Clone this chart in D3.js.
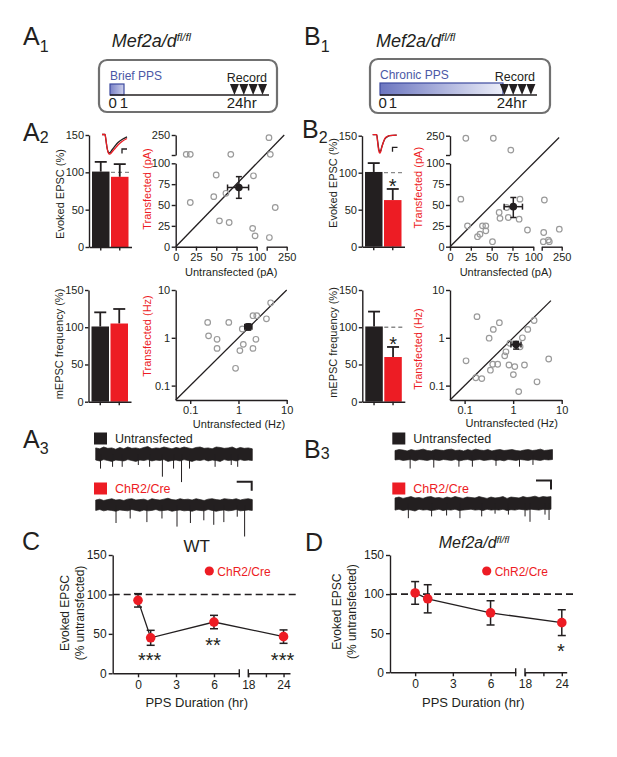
<!DOCTYPE html>
<html><head><meta charset="utf-8">
<script src="https://cdn.jsdelivr.net/npm/d3@7"></script>
<style>body{margin:0;background:#fff} svg{display:block}</style>
</head><body><script>
// ---------------- DATA ----------------
const barGroups = ["Untransfected", "ChR2/Cre"];
const barTicks = [0, 50, 100, 150];
const evokedA2 = [101, 94];
const evokedA2Err = [13, 17];
const mepscA2 = [101, 105];
const mepscA2Err = [19, 19.5];
const evokedB2 = [101, 63];
const evokedB2Err = [12, 15];
const mepscB2 = [101, 60];
const mepscB2Err = [20, 13.5];

const ampTicksLow = [0, 25, 50, 75, 100];
const freqTicks = [0.1, 1, 10];

const ampA2 = [[13,105],[18,105],[68,105],[117,230],[127,105],[50,86],[96,85],[18,53],[47,60],[62,64],[54,31],[66,29],[95,22],[98,13],[164,47],[120,11]];
const ampA2Mean = [78, 71], ampA2MeanErrX = [64, 90], ampA2MeanErrY = [58, 84];
const ampB2 = [[19,230],[52,230],[73,138],[13,57],[84,57],[59,41],[60,34],[70,35],[68,47],[83,33],[21,25],[39,25],[43,25],[43,19],[36,15],[33,12],[51,6],[93,20],[120,56],[115,17],[232,21],[112,6],[150,8],[157,6]];
const ampB2Mean = [76, 48], ampB2MeanErrX = [65, 87], ampB2MeanErrY = [35, 59];

const freqA2 = [[0.23,2.1],[0.24,1.1],[0.36,0.93],[0.36,0.6],[0.63,2.1],[0.87,0.23],[1.07,0.54],[1.26,0.73],[1.2,1.53],[2.0,2.9],[2.4,2.9],[2.3,0.93],[2.0,0.6],[3.8,2.5],[4.65,5.4]];
const freqA2Mean = [1.6, 1.7], freqA2MeanErrX = [1.35, 1.9], freqA2MeanErrY = [1.45, 1.95];
const freqB2 = [[0.107,0.33],[0.18,2.77],[0.17,0.146],[0.226,0.14],[0.32,0.98],[0.39,1.5],[0.52,2.07],[0.34,0.21],[0.38,0.28],[0.48,0.28],[0.71,0.51],[0.67,0.42],[0.86,0.77],[0.82,0.27],[1.08,0.25],[1.01,0.17],[1.39,0.65],[1.55,1.0],[1.71,0.27],[2.0,1.5],[2.7,2.3],[1.3,0.075],[3.1,0.12],[5.4,0.36]];
const freqB2Mean = [1.15, 0.72], freqB2MeanErrX = [0.9, 1.45], freqB2MeanErrY = [0.58, 0.84];

// EPSC inset traces (ms, pA-ish)
const epscT = [0,3,4,5,6,7,8,10,13,16,20,25];
const epscA2Black = [0,0,-6,-13,-17,-18.5,-18,-15.5,-11.5,-8,-5,-2.4];
const epscA2Red = [0,0,-6,-13,-17.5,-19.5,-19.5,-17.5,-14,-10.5,-7,-4];
const epscBT = [0,4,5,6,7,8,9,10.5,12,14,17,24];
const epscB2Black = [0,0,-7,-14,-17,-16,-12.5,-8,-4.5,-2.5,-1,-0.5];
const epscB2Red = [0,0,-8,-16,-18.5,-17,-13,-8,-4,-2,-1,-0.5];

// mEPSC traces (s, pA)
const traceDur = 10.4;
const a3UntUp = [7,6,8,6.5,7,5.5,7.5,6,8,6.5,7,6,7.5,8.5,6,7,6.5,8,7,6,7.5,6.5,8,7,6,7.5,8,6.5,7,6,8,7.5,6.5,7,8,6,7.5,6.5,7,6];
const a3UntDown = [6.5,7.5,6,7,8,6.5,7,7.5,6,7,8,6.5,7,6,7.5,6.5,7,6,8,7,6.5,7.5,6,7,8,6.5,7,6,7.5,6.5,7,8,6,7,6.5,7.5,6,7,6.5,7];
const a3UntSpikeT = [0.32,1.12,1.76,2.83,3.58,4.43,5.17,5.70,6.23,7.93,9.00,9.43];
const a3UntSpikeAmp = [16,14,14,12,14,25,16,31,16,14,12,14];
const a3ChrUp = [5.5,6.5,5,6,7,5.5,6,5,6.5,7,5.5,6,6.5,5,7,6,5.5,6.5,7.5,6,5.5,7,6,6.5,5.5,7,6,5,6.5,7,6,5.5,7,6.5,6,7,5.5,6.5,7,6];
const a3ChrDown = [6,5,6.5,5.5,6,7,5.5,6,6.5,5,6,7,5.5,6.5,6,5,6.5,6,5.5,7,6,5.5,6.5,6,7,5.5,6,6.5,5,6,7,6,5.5,6.5,6,5,6.5,6,5.5,6];
const a3ChrSpikeT = [1.35,2.29,3.4,4.4,5.4,6.29,7.18,7.84,8.51,9.4,9.89];
const a3ChrSpikeAmp = [20,15,19,15,24,20,17,22,19,13,35];
const b3UntUp = [5,6,5.5,4.5,6,5,5.5,6.5,5,4.5,6,5.5,5,6,6.5,5,5.5,4.5,6,5,6.5,5.5,5,6,4.5,5.5,6,5,5.5,6,5,4.5,5.5,6,5,5.5,6.5,5,5.5,6];
const b3UntDown = [5.5,5,6,5.5,5,6.5,5,5.5,6,5,5.5,6,5,5.5,6,5,6.5,5.5,5,6,5.5,5,6,5.5,5,6,5.5,6.5,5,5.5,6,5,5.5,6,5,5.5,6,5,5.5,5];
const b3UntSpikeT = [1.0,2.56,4.22,5.11,6.67,8.22,9.11];
const b3UntSpikeAmp = [15,14,13,13,12,13,11];
const b3ChrUp = [6.5,7.5,6,7,8,6.5,7,6,7.5,8,6.5,7,6,7.5,6.5,8,7,6,7.5,7,6.5,8,7,6,7.5,6.5,7,8,6,7.5,7,6.5,8,7,7.5,8.5,7,8,7.5,8];
const b3ChrDown = [7,6,7.5,6.5,7,8,6,7,6.5,7.5,7,6,7.5,6.5,7,6,7.5,7,6.5,6,7,6.5,7.5,6,7,6.5,7,6,7.5,6.5,7,6,6.5,7,6,6.5,7,6,6.5,6];
const b3ChrSpikeT = [0.89,2.44,3.44,4.33,5.78,6.67,7.56,8.67,9.0,10.0,10.27];
const b3ChrSpikeAmp = [16,14,13,16,14,11,12,14,20,12,18];

// Time course
const hours = [0, 1, 6, 24];
const hourTicks1 = [0, 3, 6];
const hourTicks2 = [18, 21, 24];
const wtMean = [92.5, 45, 65, 46.5];
const wtErr = [8.5, 9.5, 8.5, 8.5];
const wtStars = ["", "***", "**", "***"];
const mefMean = [101.5, 94, 76, 63.5];
const mefErr = [14.5, 18, 15.5, 16.5];
const mefStars = ["", "", "", "*"];

// Timeline schematic
const recordTimes = [24.1, 24.75, 25.4, 26.05];

// ---------------- DRAW ----------------
const FONT = "'Liberation Sans', Arial, Helvetica, sans-serif";
const RED = "#ed1c24", BLK = "#231f20", BLUE = "#4b58a6";
const svg = d3.select("body").append("svg").attr("width", 617).attr("height", 757).attr("font-family", FONT);
const defs = svg.append("defs");
function grad(id, c0, c1) {
  const g = defs.append("linearGradient").attr("id", id).attr("x1", "0%").attr("x2", "100%");
  g.append("stop").attr("offset", "0%").attr("stop-color", c0);
  g.append("stop").attr("offset", "100%").attr("stop-color", c1);
}
grad("gA", "#7880c6", "#cdd0ec");
grad("gB", "#6c76c0", "#eceef8");

function txt(x, y, s, o = {}) {
  const t = svg.append("text").attr("x", x).attr("y", y).attr("font-size", o.size || 11).attr("fill", o.fill || BLK).text(s);
  if (o.anchor) t.attr("text-anchor", o.anchor);
  if (o.italic) t.attr("font-style", "italic");
  return t;
}
function vtxt(cx, cy, s, o = {}) {
  const fs = o.size || 11;
  return svg.append("text").attr("transform", `translate(${cx + 0.36 * fs},${cy}) rotate(-90)`)
    .attr("text-anchor", "middle").attr("font-size", fs).attr("fill", o.fill || BLK).text(s);
}
function panelLabel(x, y, L, sub, dy) {
  const t = svg.append("text").attr("x", x).attr("y", y).attr("font-size", 25).attr("fill", BLK);
  t.append("tspan").text(L);
  if (sub) t.append("tspan").attr("font-size", 16).attr("dy", dy).text(sub);
}
function styleAxis(g, fs) {
  g.attr("font-family", FONT);
  g.selectAll("path.domain").attr("stroke", BLK).attr("stroke-width", 1.4);
  g.selectAll(".tick line").attr("stroke", BLK).attr("stroke-width", 1.4);
  g.selectAll(".tick text").attr("font-size", fs).attr("fill", BLK);
}
function titleMef(x, y, size, anchor) {
  const t = svg.append("text").attr("x", x).attr("y", y).attr("font-size", size).attr("font-style", "italic").attr("fill", BLK);
  if (anchor) t.attr("text-anchor", anchor);
  t.append("tspan").text("Mef2a/d");
  t.append("tspan").attr("font-size", size * 0.62).attr("dy", -size * 0.33).text("fl/fl");
}

// Panel labels
panelLabel(23, 45, "A", "1", 7);
panelLabel(304, 45, "B", "1", 7);
panelLabel(23, 141, "A", "2", 2);
panelLabel(302, 138, "B", "2", 5);
panelLabel(23, 448, "A", "3", 6);
panelLabel(304, 458, "B", "3", 1);
panelLabel(22, 550, "C");
panelLabel(305, 551, "D");

// ---- Timelines A1 / B1 ----
function timeline(o) {
  const t = d3.scaleLinear([0, 1, 24, 26.5], o.range);
  svg.append("rect").attr("x", o.box[0]).attr("y", o.box[1]).attr("width", o.box[2]).attr("height", o.box[3])
    .attr("rx", 8).attr("fill", "#fff").attr("stroke", "#707070").attr("stroke-width", 2.2);
  txt(t(0), o.labelY, o.label, { size: 12, fill: BLUE });
  svg.append("rect").attr("x", t(0)).attr("y", o.barTop).attr("width", t(o.ppsEnd) - t(0)).attr("height", 95 - o.barTop)
    .attr("fill", `url(#${o.grad})`).attr("stroke", "#3d4a9e").attr("stroke-width", 1.2);
  svg.append("line").attr("x1", t(0)).attr("x2", t(26.5)).attr("y1", 95).attr("y2", 95).attr("stroke", BLK).attr("stroke-width", 1.6);
  svg.selectAll(null).data(recordTimes).join("path")
    .attr("d", d => `M${t(d) - 4.5},84L${t(d) + 4.5},84L${t(d)},95Z`).attr("fill", BLK);
  txt(t(26.5) - 2, o.labelY + 2, "Record", { size: 12.5, anchor: "end" });
  txt(t(0) - 1.5, 108, "0", { size: 15 });
  txt(t(1), 108, "1", { size: 15, anchor: "middle" });
  txt(t(24) - 6.3, 108, "24hr", { size: 15 });
}
titleMef(111.7, 46.7, 18);
titleMef(376, 46.7, 18);
timeline({ range: [110, 124, 233, 269], box: [99, 60, 178, 52], label: "Brief PPS", labelY: 80, ppsEnd: 1, barTop: 84, grad: "gA" });
timeline({ range: [380, 393, 503, 537], box: [370, 59, 180, 54], label: "Chronic PPS", labelY: 79.3, ppsEnd: 24, barTop: 83, grad: "gB" });

// ---- Bar charts ----
function barChart(o) {
  const y = d3.scaleLinear([0, 150], o.yRange);
  const x = d3.scaleBand(barGroups, [o.ax, o.ax + 42.5]).paddingInner(0.079).paddingOuter(0.158);
  const colors = [BLK, RED];
  if (o.dash) {
    svg.append("line").attr("x1", x(barGroups[1])).attr("x2", x(barGroups[1]) + 21).attr("y1", y(100)).attr("y2", y(100))
      .attr("stroke", "#8a8a8a").attr("stroke-width", 1.3).attr("stroke-dasharray", "4,3");
  }
  barGroups.forEach((gname, i) => {
    const cx = x(gname) + x.bandwidth() / 2;
    svg.append("line").attr("x1", cx).attr("x2", cx).attr("y1", y(o.vals[i])).attr("y2", y(o.vals[i] + o.errs[i])).attr("stroke", BLK).attr("stroke-width", 1.8);
    svg.append("line").attr("x1", cx - 6).attr("x2", cx + 6).attr("y1", y(o.vals[i] + o.errs[i])).attr("y2", y(o.vals[i] + o.errs[i])).attr("stroke", BLK).attr("stroke-width", 1.8);
  });
  svg.selectAll(null).data(o.vals).join("rect")
    .attr("x", (d, i) => x(barGroups[i])).attr("width", x.bandwidth())
    .attr("y", d => y(d)).attr("height", d => y(0) - y(d)).attr("fill", (d, i) => colors[i]);
  const gy = svg.append("g").attr("transform", `translate(${o.ax},0)`)
    .call(d3.axisLeft(y).tickValues(barTicks).tickSize(3.5).tickPadding(1.5).tickSizeOuter(0));
  styleAxis(gy, 11);
  const gx = svg.append("g").attr("transform", `translate(0,${y(0)})`)
    .call(d3.axisBottom(x).tickSize(3.5).tickSizeOuter(0).tickFormat(""));
  styleAxis(gx, 11);
  vtxt(o.ax - 29, o.labelY, o.ylabel);
  if (o.star) txt(x(barGroups[1]) + x.bandwidth() / 2, o.starY + 11.5, "*", { size: 20, anchor: "middle" });
  return { x, y };
}
barChart({ ax: 89, yRange: [247, 135], vals: evokedA2, errs: evokedA2Err, dash: true, ylabel: "Evoked EPSC (%)", labelY: 194 });
barChart({ ax: 362, yRange: [246.7, 135.7], vals: evokedB2, errs: evokedB2Err, dash: true, ylabel: "Evoked EPSC (%)", labelY: 183, star: true, starY: 181.7 });
barChart({ ax: 88.5, yRange: [401.7, 290], vals: mepscA2, errs: mepscA2Err, dash: false, ylabel: "mEPSC frequency (%)", labelY: 344 });
barChart({ ax: 362.3, yRange: [401.7, 290], vals: mepscB2, errs: mepscB2Err, dash: true, ylabel: "mEPSC frequency (%)", labelY: 342.5, star: true, starY: 339.3 });

// EPSC insets
function inset(xr, y0, t, blk, red, sb) {
  const x = d3.scaleLinear([0, 25], xr);
  const y = d3.scaleLinear([0, -20], [y0, y0 + 20]);
  const line = d3.line().x((d, i) => x(t[i])).y(d => y(d)).curve(d3.curveMonotoneX);
  svg.append("path").attr("d", line(blk)).attr("fill", "none").attr("stroke", BLK).attr("stroke-width", 1.3);
  svg.append("path").attr("d", line(red)).attr("fill", "none").attr("stroke", RED).attr("stroke-width", 1.3);
  svg.append("path").attr("d", `M${sb[0]},${sb[1] + 4.5}V${sb[1]}H${sb[0] + 5}`).attr("fill", "none").attr("stroke", BLK).attr("stroke-width", 1.3);
}
inset([102, 127], 134.5, epscT, epscA2Black, epscA2Red, [122, 149]);
inset([372.7, 397.7], 134.7, epscBT, epscB2Black, epscB2Red, [392.5, 147.3]);

// ---- Amplitude scatter (broken axes) ----
function ampScatter(o) {
  const xLow = d3.scaleLinear([0, 100], o.xLow), xHigh = d3.scaleLinear([100, 250], o.xHigh);
  const yLow = d3.scaleLinear([0, 100], o.yLow), yHigh = d3.scaleLinear([100, 250], o.yHigh);
  const X = v => v <= 100 ? xLow(v) : xHigh(v);
  const Y = v => v <= 100 ? yLow(v) : yHigh(v);
  const ax0 = o.xLow[0], ay0 = o.yLow[0];
  const fmt = d => d === 250 ? "250" : (d === 100 ? "" : d);
  styleAxis(svg.append("g").attr("transform", `translate(${ax0},0)`).call(d3.axisLeft(yLow).tickValues(ampTicksLow).tickSize(4).tickPadding(1.5).tickSizeOuter(0)), 11);
  styleAxis(svg.append("g").attr("transform", `translate(${ax0},0)`).call(d3.axisLeft(yHigh).tickValues([100, 250]).tickFormat(fmt).tickSize(4).tickPadding(1.5).tickSizeOuter(0)), 11);
  styleAxis(svg.append("g").attr("transform", `translate(0,${ay0})`).call(d3.axisBottom(xLow).tickValues(ampTicksLow).tickSize(4).tickPadding(2.5).tickSizeOuter(0)), 11);
  styleAxis(svg.append("g").attr("transform", `translate(0,${ay0})`).call(d3.axisBottom(xHigh).tickValues([100, 250]).tickFormat(fmt).tickSize(4).tickPadding(2.5).tickSizeOuter(0)), 11);
  svg.append("line").attr("x1", xLow(0)).attr("y1", yLow(0)).attr("x2", xLow(o.diag)).attr("y2", yLow(o.diag)).attr("stroke", BLK).attr("stroke-width", 1.3);
  svg.selectAll(null).data(o.pts).join("circle").attr("cx", d => X(d[0])).attr("cy", d => Y(d[1])).attr("r", 2.8)
    .attr("fill", "#fff").attr("fill-opacity", 0).attr("stroke", "#9a9a9a").attr("stroke-width", 1.2);
  meanPoint(X, Y, o.mean, o.ex, o.ey);
  vtxt(o.ylabX, o.ylabY, o.ylab, { fill: RED });
  txt((o.xLow[0] + o.xHigh[1]) / 2, 276, o.xlab, { anchor: "middle" });
}
function meanPoint(X, Y, m, ex, ey) {
  const g = svg.append("g").attr("stroke", BLK).attr("stroke-width", 1.5);
  g.append("line").attr("x1", X(ex[0])).attr("x2", X(ex[1])).attr("y1", Y(m[1])).attr("y2", Y(m[1]));
  g.append("line").attr("x1", X(m[0])).attr("x2", X(m[0])).attr("y1", Y(ey[0])).attr("y2", Y(ey[1]));
  ex.forEach(v => g.append("line").attr("x1", X(v)).attr("x2", X(v)).attr("y1", Y(m[1]) - 3).attr("y2", Y(m[1]) + 3));
  ey.forEach(v => g.append("line").attr("x1", X(m[0]) - 3).attr("x2", X(m[0]) + 3).attr("y1", Y(v)).attr("y2", Y(v)));
  svg.append("circle").attr("cx", X(m[0])).attr("cy", Y(m[1])).attr("r", 3.8).attr("fill", BLK);
}
ampScatter({ xLow: [175.7, 256.7], xHigh: [266.7, 286.7], yLow: [246.7, 163.3], yHigh: [155, 135], pts: ampA2, mean: ampA2Mean, ex: ampA2MeanErrX, ey: ampA2MeanErrY, diag: 134, ylab: "Transfected (pA)", ylabX: 146.7, ylabY: 189, xlab: "Untransfected (pA)" });
ampScatter({ xLow: [450, 533.3], xHigh: [541.7, 561.7], yLow: [246.7, 163.3], yHigh: [155, 135.7], pts: ampB2, mean: ampB2Mean, ex: ampB2MeanErrX, ey: ampB2MeanErrY, diag: 131, ylab: "Transfected (pA)", ylabX: 418.3, ylabY: 187.7, xlab: "Untransfected (pA)" });

// ---- Frequency scatter (log) ----
function freqScatter(o) {
  const x = d3.scaleLog([0.05, 10], o.xr), y = d3.scaleLog([0.05, 10], [400, 290]);
  const f = d3.format("~g");
  styleAxis(svg.append("g").attr("transform", `translate(${o.xr[0]},0)`).call(d3.axisLeft(y).tickValues(freqTicks).tickFormat(f).tickSize(4).tickPadding(1.5).tickSizeOuter(0)), 11);
  styleAxis(svg.append("g").attr("transform", `translate(0,400)`).call(d3.axisBottom(x).tickValues(freqTicks).tickFormat(f).tickSize(4).tickPadding(2.5).tickSizeOuter(0)), 11);
  svg.append("line").attr("x1", x(0.05)).attr("y1", y(0.05)).attr("x2", x(o.diag)).attr("y2", y(o.diag)).attr("stroke", BLK).attr("stroke-width", 1.3);
  svg.selectAll(null).data(o.pts).join("circle").attr("cx", d => x(d[0])).attr("cy", d => y(d[1])).attr("r", 2.8)
    .attr("fill", "none").attr("stroke", "#9a9a9a").attr("stroke-width", 1.2);
  meanPoint(x, y, o.mean, o.ex, o.ey);
  vtxt(o.ylabX, o.ylabY, "Transfected (Hz)", { fill: RED });
  txt(o.xlabX, o.xlabY, "Untransfected (Hz)", { anchor: "middle" });
}
freqScatter({ xr: [175.7, 286.7], pts: freqA2, mean: freqA2Mean, ex: freqA2MeanErrX, ey: freqA2MeanErrY, diag: 10, ylabX: 146.7, ylabY: 336, xlabX: 239, xlabY: 428.3 });
freqScatter({ xr: [450, 561.7], pts: freqB2, mean: freqB2Mean, ex: freqB2MeanErrX, ey: freqB2MeanErrY, diag: 6, ylabX: 418.3, ylabY: 349, xlabX: 511.7, xlabY: 426.7 });

// ---- mEPSC traces ----
function trace(xr, yc, up, down, spikeT, spikeAmp) {
  const x = d3.scaleLinear([0, traceDur], xr);
  const y = d3.scaleLinear([0, -10], [yc, yc + 9]);
  const tt = up.map((_, i) => i * traceDur / (up.length - 1));
  const area = d3.area().x((d, i) => x(tt[i])).y0((d, i) => y(-down[i])).y1(d => y(d));
  svg.append("path").attr("d", area(up)).attr("fill", BLK).attr("stroke", BLK).attr("stroke-width", 0.7);
  svg.selectAll(null).data(spikeT).join("line").attr("x1", d => x(d)).attr("x2", d => x(d))
    .attr("y1", yc).attr("y2", (d, i) => y(-spikeAmp[i])).attr("stroke", BLK).attr("stroke-width", 1);
}
function traceLegend(x, y, label, color) {
  svg.append("rect").attr("x", x).attr("y", y).attr("width", 13).attr("height", 12).attr("fill", color);
  txt(x + 21, y + 10.5, label, { size: 12.5, fill: color === BLK ? BLK : RED });
}
function scaleBar(x, y) {
  svg.append("path").attr("d", `M${x},${y}H${x + 15}V${y + 9}`).attr("fill", "none").attr("stroke", BLK).attr("stroke-width", 2);
}
traceLegend(94, 432.5, "Untransfected", BLK);
traceLegend(94, 482.5, "ChR2/Cre", RED);
trace([95.7, 252.3], 454.2, a3UntUp, a3UntDown, a3UntSpikeT, a3UntSpikeAmp);
trace([95.7, 252.3], 505, a3ChrUp, a3ChrDown, a3ChrSpikeT, a3ChrSpikeAmp);
scaleBar(236.7, 481.7);
traceLegend(392.3, 432.5, "Untransfected", BLK);
traceLegend(392.3, 482.5, "ChR2/Cre", RED);
trace([395, 552.5], 455, b3UntUp, b3UntDown, b3UntSpikeT, b3UntSpikeAmp);
trace([395, 551], 503.8, b3ChrUp, b3ChrDown, b3ChrSpikeT, b3ChrSpikeAmp);
scaleBar(536, 480.5);

// ---- Time course C / D ----
function timeCourse(o) {
  const x1 = d3.scaleLinear([-2, 8], o.x1r), x2 = d3.scaleLinear([18, o.x2max], o.x2r);
  const X = h => h <= 8 ? x1(h) : x2(h);
  const y = d3.scaleLinear([0, 150], o.yr);
  const y0 = o.yr[0];
  styleAxis(svg.append("g").attr("transform", `translate(${o.x1r[0]},0)`).call(d3.axisLeft(y).tickValues(barTicks).tickSize(4).tickPadding(2).tickSizeOuter(0)), 12);
  styleAxis(svg.append("g").attr("transform", `translate(0,${y0})`).call(d3.axisBottom(x1).tickValues(hourTicks1).tickSize(4).tickPadding(3).tickSizeOuter(0)), 12);
  styleAxis(svg.append("g").attr("transform", `translate(0,${y0})`).call(d3.axisBottom(x2).tickValues(hourTicks2).tickFormat(d => d === 21 ? "" : d).tickSize(4).tickPadding(3).tickSizeOuter(0)), 12);
  [x1(8), x2(18)].forEach(v => svg.append("line").attr("x1", v).attr("x2", v).attr("y1", y0 - 4).attr("y2", y0 + 4).attr("stroke", BLK).attr("stroke-width", 1.4));
  svg.append("line").attr("x1", o.x1r[0]).attr("x2", o.dashEnd).attr("y1", y(100)).attr("y2", y(100))
    .attr("stroke", BLK).attr("stroke-width", 1.6).attr("stroke-dasharray", "7,4");
  const line = d3.line().x((d, i) => X(hours[i])).y(d => y(d));
  svg.append("path").attr("d", line(o.mean)).attr("fill", "none").attr("stroke", BLK).attr("stroke-width", 1.3);
  o.mean.forEach((m, i) => {
    const cx = X(hours[i]);
    const g = svg.append("g").attr("stroke", BLK).attr("stroke-width", 1.5);
    g.append("line").attr("x1", cx).attr("x2", cx).attr("y1", y(m - o.err[i])).attr("y2", y(m + o.err[i]));
    [m - o.err[i], m + o.err[i]].forEach(v => g.append("line").attr("x1", cx - 4).attr("x2", cx + 4).attr("y1", y(v)).attr("y2", y(v)));
  });
  svg.selectAll(null).data(o.mean).join("circle").attr("cx", (d, i) => X(hours[i])).attr("cy", d => y(d)).attr("r", 4.8).attr("fill", RED);
  o.stars.forEach((s, i) => { if (s) txt(X(hours[i]) - 1, o.starY[i] + 11.5, s, { size: 20, anchor: "middle" }); });
  svg.append("circle").attr("cx", o.leg[0]).attr("cy", o.leg[1]).attr("r", 4.6).attr("fill", RED);
  txt(o.leg[0] + 8, o.leg[1] + 4.5, "ChR2/Cre", { size: 12, fill: RED });
  vtxt(o.ylx[0], o.yly, "Evoked EPSC", { size: 12 });
  vtxt(o.ylx[1], o.yly, "(% untransfected)", { size: 12 });
  txt(o.xlabX, 706.7, "PPS Duration (hr)", { size: 13, anchor: "middle" });
}
txt(196.7, 552, "WT", { size: 17, anchor: "middle" });
timeCourse({ x1r: [112.7, 239.3], x2r: [248.3, 290], x2max: 25.1, yr: [673.3, 555], dashEnd: 298, mean: wtMean, err: wtErr, stars: wtStars, starY: [0, 655, 640, 655], leg: [209.3, 571], ylx: [65, 79.3], yly: 613, xlabX: 196.7 });
titleMef(474, 548, 16, "middle");
timeCourse({ x1r: [390, 515.7], x2r: [525, 566.7], x2max: 24.8, yr: [672.3, 555], dashEnd: 573.3, mean: mefMean, err: mefErr, stars: mefStars, starY: [0, 0, 0, 646], leg: [486.7, 571], ylx: [336.7, 351.7], yly: 611.7, xlabX: 473.3 });
</script></body></html>
